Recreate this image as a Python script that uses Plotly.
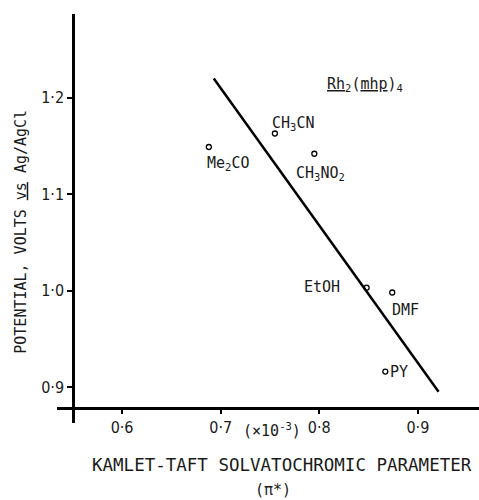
import plotly.graph_objects as go

solvents = ["Me<sub>2</sub>CO", "CH<sub>3</sub>CN", "CH<sub>3</sub>NO<sub>2</sub>", "EtOH", "DMF", "PY"]
pi_star = [0.688, 0.755, 0.795, 0.848, 0.874, 0.867]
potential = [1.149, 1.163, 1.142, 1.003, 0.998, 0.916]
fit_x = [0.693, 0.921]
fit_y = [1.220, 0.895]
x_ticks = [0.6, 0.7, 0.8, 0.9]
x_tick_text = ["0·6", "0·7", "0·8", "0·9"]
y_ticks = [0.9, 1.0, 1.1, 1.2]
y_tick_text = ["0·9", "1·0", "1·1", "1·2"]

# label offsets (pixels) relative to each point
label_pos = [
    dict(xanchor="left", xshift=-4, yshift=-17),
    dict(xanchor="left", xshift=-5, yshift=10),
    dict(xanchor="left", xshift=-20, yshift=-20),
    dict(xanchor="right", xshift=-25, yshift=1),
    dict(xanchor="left", xshift=-2, yshift=-17),
    dict(xanchor="left", xshift=3, yshift=0),
]

FONT = "DejaVu Sans Mono"
TICKFONT = "Liberation Sans Narrow, DejaVu Sans Condensed, DejaVu Sans Mono"
INK = "#1a1a1a"

fig = go.Figure()
fig.add_trace(go.Scatter(x=fit_x, y=fit_y, mode="lines",
                         line=dict(color="black", width=2.5), showlegend=False))
fig.add_trace(go.Scatter(x=pi_star, y=potential, mode="markers",
                         marker=dict(symbol="circle-open", size=5, color="black",
                                     line=dict(width=1.3, color="black")),
                         showlegend=False))

for name, xv, yv, pos in zip(solvents, pi_star, potential, label_pos):
    fig.add_annotation(x=xv, y=yv, text=name, showarrow=False,
                       font=dict(family=FONT, size=15, color=INK),
                       yanchor="middle", **pos)

fig.add_annotation(xref="paper", yref="paper", x=0.635, y=0.855, xanchor="left",
                   text="<u>Rh</u><sub>2</sub>(<u>mhp</u>)<sub>4</sub>", showarrow=False,
                   font=dict(family=FONT, size=15, color=INK))
fig.add_annotation(xref="paper", yref="paper", x=0.534, y=-0.132,
                   text="KAMLET-TAFT SOLVATOCHROMIC PARAMETER", showarrow=False,
                   font=dict(family=FONT, size=17.5, color=INK))
fig.add_annotation(xref="paper", yref="paper", x=0.512, y=-0.19,
                   text="(π*)", showarrow=False,
                   font=dict(family=FONT, size=15, color=INK))
fig.add_annotation(xref="paper", yref="paper", x=0.509, y=-0.046,
                   text="(×10<sup>-3</sup>)", showarrow=False,
                   font=dict(family=FONT, size=15, color=INK))
fig.add_annotation(xref="paper", yref="paper", x=-0.112, y=0.467,
                   text="POTENTIAL, VOLTS <u>vs</u> Ag/AgCl", showarrow=False, textangle=-90,
                   font=dict(family=FONT, size=15, color=INK))

fig.update_layout(
    width=479, height=500,
    margin=dict(l=57, r=0, t=14, b=77, autoexpand=False),
    plot_bgcolor="white", paper_bgcolor="white",
    xaxis=dict(range=[0.534, 0.962], tickvals=x_ticks, ticktext=x_tick_text,
               showgrid=False, zeroline=False, showline=True, linecolor="black", linewidth=2.5,
               ticks="outside", ticklen=4, tickwidth=2, tickcolor="black",
               anchor="free", position=0.0367, automargin=False,
               tickfont=dict(family=TICKFONT, size=16, color=INK)),
    yaxis=dict(range=[0.8626, 1.287], tickvals=y_ticks, ticktext=y_tick_text,
               showgrid=False, zeroline=False, showline=True, linecolor="black", linewidth=2.5,
               ticks="outside", ticklen=5, tickwidth=2, tickcolor="black",
               anchor="free", position=0.038, automargin=False,
               tickfont=dict(family=TICKFONT, size=16, color=INK)),
)

fig.write_html("out.html", config={"displayModeBar": False},
               post_script="document.body.style.margin='0';document.body.style.overflow='hidden';")
